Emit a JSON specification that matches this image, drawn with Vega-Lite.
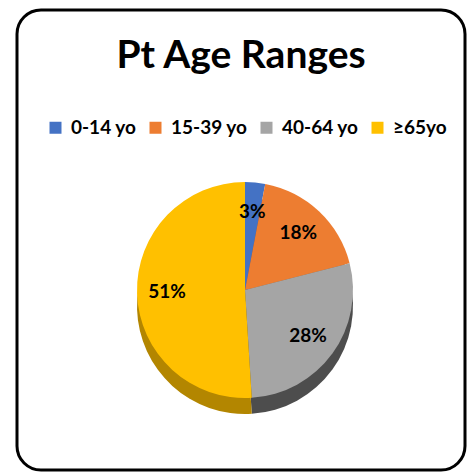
{
  "$schema": "https://vega.github.io/schema/vega-lite/v6.json",
  "width": 474,
  "height": 474,
  "autosize": {"type": "fit", "contains": "padding"},
  "padding": {"left": 17, "top": 10, "right": 9, "bottom": 4},
  "background": "white",
  "view": {"stroke": "black", "strokeWidth": 3, "cornerRadius": 24, "fill": "white"},
  "title": {
    "text": "Pt Age Ranges",
    "font": "Lato",
    "fontSize": 39,
    "fontWeight": "bold",
    "color": "black",
    "anchor": "middle",
    "frame": "group",
    "offset": -66
  },
  "data": {
    "values": [
      {"group": "0-14 yo", "share": 0.03},
      {"group": "15-39 yo", "share": 0.18},
      {"group": "40-64 yo", "share": 0.28},
      {"group": "≥65yo", "share": 0.51}
    ]
  },
  "encoding": {
    "theta": {"field": "share", "type": "quantitative", "stack": true},
    "order": {"field": "group", "type": "ordinal", "sort": "ascending"}
  },
  "layer": [
    {
      "mark": {"type": "arc", "outerRadius": 108, "xOffset": 4, "yOffset": 66},
      "encoding": {
        "color": {
          "field": "group",
          "type": "nominal",
          "scale": {"domain": ["0-14 yo", "15-39 yo", "40-64 yo", "≥65yo"], "range": ["#2F5597", "#AE5A21", "#4D4D4D", "#B38600"]},
          "legend": null
        }
      }
    },
    {
      "mark": {"type": "arc", "outerRadius": 108, "xOffset": 4, "yOffset": 50},
      "encoding": {
        "color": {
          "field": "group",
          "type": "nominal",
          "scale": {"domain": ["0-14 yo", "15-39 yo", "40-64 yo", "≥65yo"], "range": ["#4472C4", "#ED7D31", "#A5A5A5", "#FFC000"]},
          "legend": {
            "title": null,
            "orient": "none",
            "direction": "horizontal",
            "legendX": 29,
            "legendY": 108,
            "symbolType": "square",
            "symbolSize": 144,
            "symbolStrokeWidth": 0,
            "labelFont": "Lato",
            "labelFontSize": 19,
            "labelFontWeight": "bold",
            "labelColor": "black",
            "labelOffset": 6,
            "columnPadding": 9
          }
        }
      }
    },
    {
      "mark": {"type": "text", "radius": 78, "font": "Lato", "fontSize": 19, "fontWeight": "bold", "color": "black", "xOffset": 4, "yOffset": 50},
      "encoding": {
        "text": {"field": "share", "type": "quantitative", "format": ".0%"}
      }
    }
  ],
  "resolve": {"scale": {"color": "independent"}}
}
